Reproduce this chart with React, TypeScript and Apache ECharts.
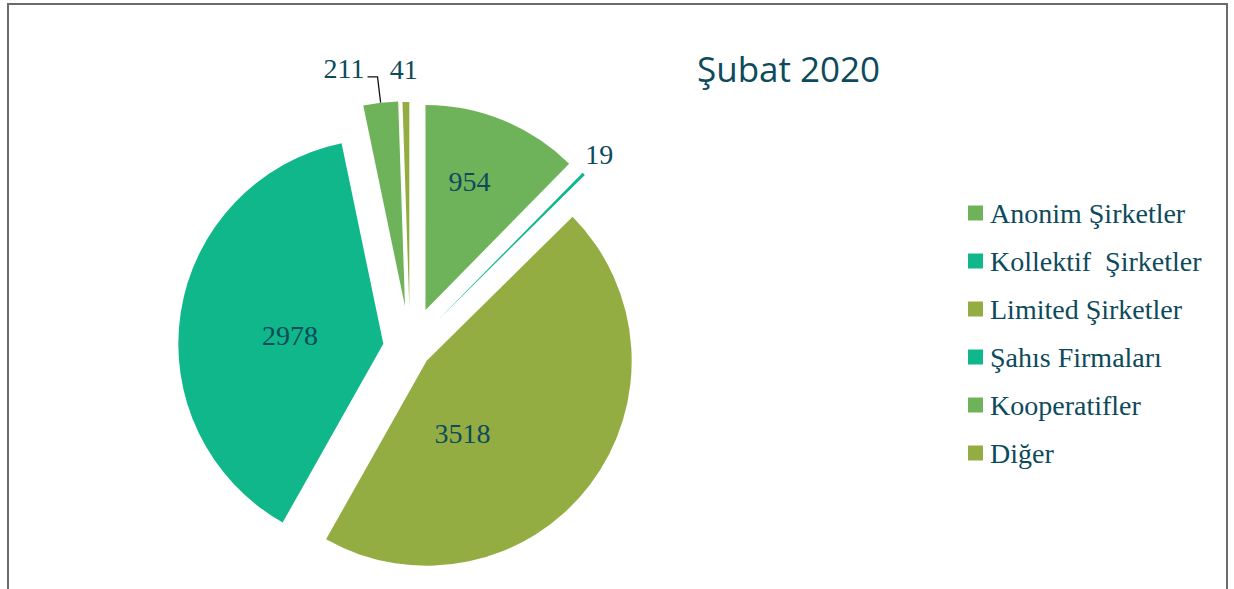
import { useEffect, useRef } from 'react';
import * as echarts from 'echarts';

const categories = [
  'Anonim Şirketler',
  'Kollektif  Şirketler',
  'Limited Şirketler',
  'Şahıs Firmaları',
  'Kooperatifler',
  'Diğer',
];
const values = [954, 19, 3518, 2978, 211, 41];
const colors = ['#6eb35a', '#0fb78a', '#94ad42', '#0fb78a', '#6eb35a', '#94ad42'];
// explosion distance of each slice (px)
const explode = [41, 41, 21, 27, 42, 41];
// label placement per slice
const labelPos = ['inside', 'outside', 'inside', 'inside', 'outside', 'outside'];
const labelLineShow = [false, false, false, false, true, false];
const labelLineLen = [0, 5, 0, 0, 26, 8];
const labelLineLen2 = [0, 0, 0, 0, 10, 0];
const labelDx = [4, -7, -48, 11, 2, 17];
const labelDy = [-31, -16, 9, 8, -8, -25];

const TEXT = '#0d4a5c';
const PIE_CX = 410;
const PIE_CY = 348;
const PIE_R = 205;

export default function App() {
  const ref = useRef<HTMLDivElement>(null);
  useEffect(() => {
    if (!ref.current) return;
    const chart = echarts.init(ref.current, undefined, { renderer: 'svg' });
    const total = values.reduce((a, b) => a + b, 0);
    let cum = 0;
    const series = values.map((v, i) => {
      const mid = ((cum + v / 2) / total) * Math.PI * 2;
      cum += v;
      const cx = PIE_CX + explode[i] * Math.sin(mid);
      const cy = PIE_CY - explode[i] * Math.cos(mid);
      return {
        type: 'pie',
        center: [cx, cy],
        radius: PIE_R,
        startAngle: 90,
        clockwise: true,
        avoidLabelOverlap: false,
        silent: true,
        emphasis: { disabled: true },
        label: {
          show: false,
          position: labelPos[i],
          color: TEXT,
          fontFamily: 'Liberation Serif',
          fontSize: 28,
        },
        labelLine: {
          show: false,
          length: labelLineLen[i],
          length2: labelLineLen2[i],
          lineStyle: { color: '#111', width: 1.3 },
        },
        labelLayout: { dx: labelDx[i], dy: labelDy[i] },
        data: categories.map((name, j) =>
          j === i
            ? {
                name,
                value: values[j],
                itemStyle: { color: colors[j] },
                label: { show: true, formatter: String(values[j]) },
                labelLine: { show: labelLineShow[j] },
              }
            : {
                name,
                value: values[j],
                itemStyle: { color: 'rgba(0,0,0,0)' },
                label: { show: false },
                labelLine: { show: false },
              }
        ),
      };
    });
    chart.setOption({
      animation: false,
      backgroundColor: '#ffffff',
      title: {
        text: 'Şubat 2020',
        left: 697,
        top: 51,
        padding: 0,
        textStyle: {
          fontFamily: 'Open Sans',
          fontSize: 35,
          fontWeight: 'normal',
          color: TEXT,
        },
      },
      legend: {
        orient: 'vertical',
        left: 968,
        top: 199,
        padding: 0,
        itemWidth: 15,
        itemHeight: 15,
        itemGap: 20,
        icon: 'rect',
        selectedMode: false,
        textStyle: {
          fontFamily: 'Liberation Serif',
          fontSize: 28,
          color: TEXT,
          padding: [0, 0, 0, 2],
        },
        data: categories.map((name, i) => ({ name, itemStyle: { color: colors[i] } })),
      },
      graphic: [
        {
          type: 'rect',
          shape: { x: 8, y: 4, width: 1219, height: 640 },
          style: { fill: 'none', stroke: '#6b6b6b', lineWidth: 2 },
          silent: true,
        },
      ],
      series,
    });
    return () => chart.dispose();
  }, []);
  return (
    <div
      ref={ref}
      style={{ position: 'fixed', left: 0, top: 0, width: 1234, height: 589 }}
    />
  );
}
